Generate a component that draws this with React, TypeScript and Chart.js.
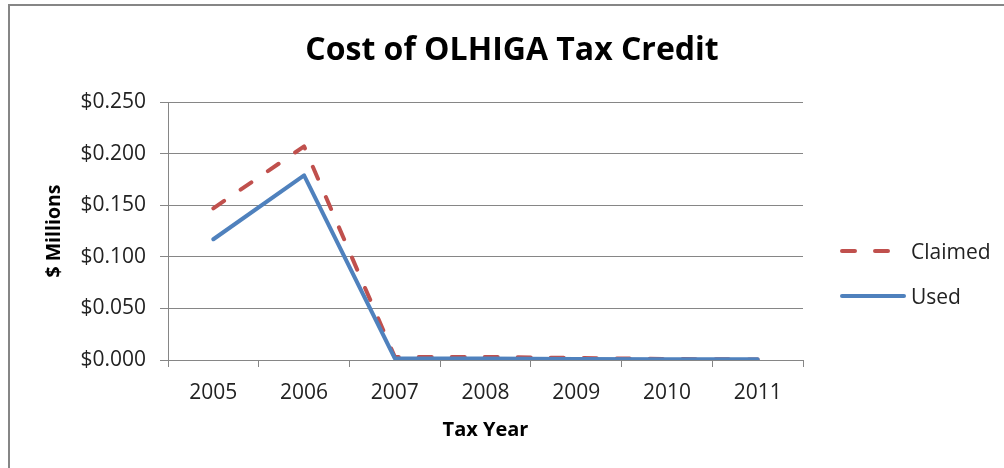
import React, { useEffect, useRef } from "react";
import { Chart, registerables } from "chart.js";

Chart.register(...registerables);

const categories = ["2005", "2006", "2007", "2008", "2009", "2010", "2011"];
const claimed = [0.147, 0.207, 0.003, 0.003, 0.002, 0.001, 0.0005];
const used = [0.117, 0.179, 0.0017, 0.0015, 0.001, 0.0007, 0.0007];
const seriesNames = ["Claimed", "Used"];
const seriesColors = ["#C0504D", "#4F81BD"];
const yTickMax = 0.25;
const yTickStep = 0.05;
const titleText = "Cost of OLHIGA Tax Credit";
const xTitle = "Tax Year";
const yTitle = "$ Millions";

const FONT = "'Open Sans', Lato, 'Noto Sans', sans-serif";
const GRID = "#868686";
const TEXT = "#222222";
const DASH = [13, 20];

const framePlugin = {
  id: "frame",
  beforeDraw(chart: any) {
    const { ctx } = chart;
    ctx.save();
    ctx.fillStyle = "#ffffff";
    ctx.fillRect(0, 0, chart.width, chart.height);
    ctx.strokeStyle = GRID;
    ctx.lineWidth = 2;
    ctx.strokeRect(9, 5, chart.width + 20, chart.height + 20);
    ctx.restore();
  },
};

const legendPlugin = {
  id: "customLegend",
  afterDraw(chart: any) {
    const { ctx } = chart;
    const ys = [251, 296];
    ctx.save();
    seriesNames.forEach((name, i) => {
      const y = ys[i];
      ctx.strokeStyle = seriesColors[i];
      ctx.lineWidth = 4;
      ctx.lineCap = "round";
      ctx.setLineDash(i === 0 ? DASH : []);
      ctx.beginPath();
      ctx.moveTo(842, y);
      ctx.lineTo(904, y);
      ctx.stroke();
      ctx.setLineDash([]);
      ctx.fillStyle = TEXT;
      ctx.font = `21px ${FONT}`;
      ctx.textAlign = "left";
      ctx.textBaseline = "middle";
      ctx.fillText(name, 911, y + 2);
    });
    ctx.restore();
  },
};

export default function App() {
  const ref = useRef<HTMLCanvasElement>(null);

  useEffect(() => {
    if (!ref.current) return;
    const chart = new Chart(ref.current, {
      type: "line",
      data: {
        labels: categories,
        datasets: [
          {
            label: seriesNames[0],
            data: claimed,
            borderColor: seriesColors[0],
            backgroundColor: seriesColors[0],
            borderWidth: 4,
            borderDash: DASH,
            borderCapStyle: "round",
            borderJoinStyle: "round",
            pointRadius: 0,
            tension: 0,
            order: 1,
          },
          {
            label: seriesNames[1],
            data: used,
            borderColor: seriesColors[1],
            backgroundColor: seriesColors[1],
            borderWidth: 4,
            borderCapStyle: "round",
            borderJoinStyle: "round",
            pointRadius: 0,
            tension: 0,
            order: 0,
          },
        ],
      },
      options: {
        responsive: false,
        animation: false,
        layout: { padding: { left: 20, right: 0, top: 0, bottom: 10 } },
        plugins: {
          legend: { display: false },
          tooltip: { enabled: false },
          title: {
            display: true,
            text: titleText,
            color: "#000000",
            font: { family: FONT, size: 32, weight: "bold" },
            padding: { top: 32, bottom: 31.6 },
          },
        },
        scales: {
          x: {
            type: "category",
            offset: true,
            grid: {
              offset: true,
              drawOnChartArea: false,
              drawTicks: true,
              tickLength: 7,
              color: GRID,
            },
            border: { display: true, color: GRID, width: 1 },
            ticks: {
              color: TEXT,
              font: { family: FONT, size: 21 },
              padding: 13,
              maxRotation: 0,
            },
            title: {
              display: true,
              text: xTitle,
              color: "#000000",
              font: { family: FONT, size: 20, weight: "bold" },
              padding: { top: 0, bottom: 16 },
            },
            afterFit(scale: any) {
              scale.height = 98;
            },
          },
          y: {
            type: "linear",
            position: "left",
            min: 0,
            max: yTickMax,
            grid: {
              color: GRID,
              tickLength: 8,
              drawTicks: true,
            },
            border: { display: true, color: GRID, width: 1 },
            ticks: {
              stepSize: yTickStep,
              color: TEXT,
              font: { family: FONT, size: 21 },
              padding: 14,
              callback: (v: any) => "$" + Number(v).toFixed(3),
            },
            title: {
              display: true,
              text: yTitle,
              color: "#000000",
              font: { family: FONT, size: 19.5, weight: "bold" },
              padding: { top: 23, bottom: 0 },
            },
            afterFit(scale: any) {
              scale.width = 148;
            },
          },
          legendSpace: {
            type: "linear",
            position: "right",
            display: true,
            grid: { display: false, drawTicks: false },
            border: { display: false },
            ticks: { display: false },
            afterFit(scale: any) {
              scale.width = 201;
            },
          },
        },
      },
      plugins: [framePlugin, legendPlugin],
    } as any);
    return () => chart.destroy();
  }, []);

  return (
    <div style={{ position: "absolute", left: 0, top: 0, width: 1004, height: 468 }}>
      <canvas ref={ref} width={1004} height={468} style={{ display: "block" }} />
    </div>
  );
}
